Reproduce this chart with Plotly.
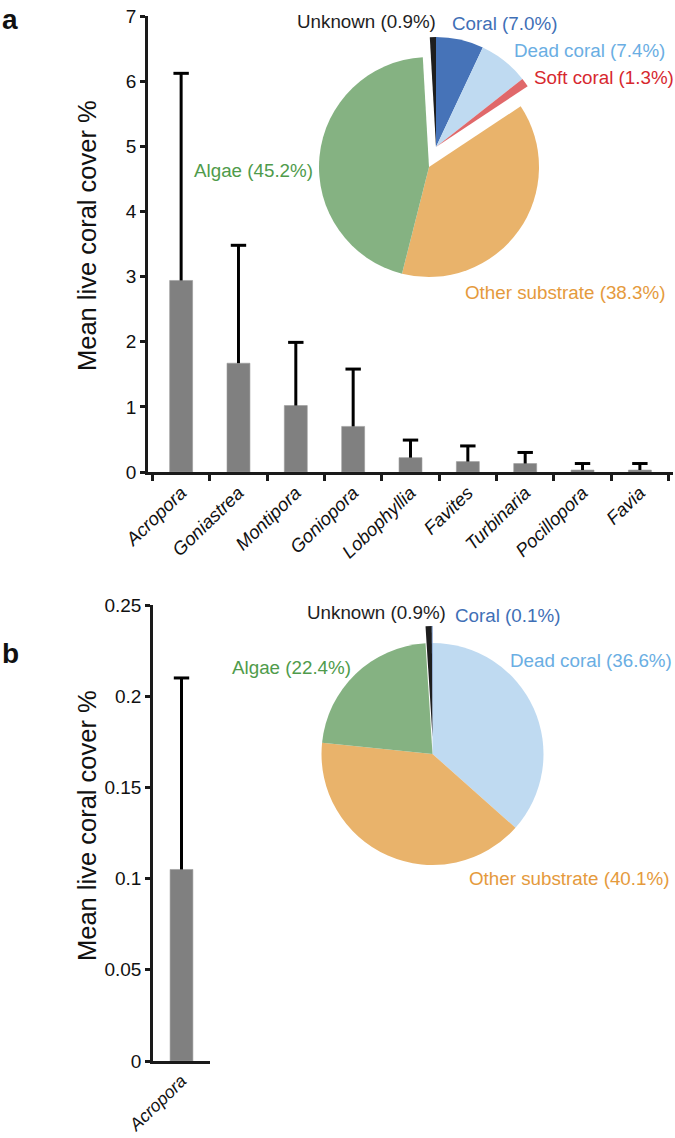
import plotly.graph_objects as go

# ---------------- data ----------------
genera_a = ["Acropora", "Goniastrea", "Montipora", "Goniopora", "Lobophyllia",
            "Favites", "Turbinaria", "Pocillopora", "Favia"]
cover_a = [2.94, 1.67, 1.02, 0.70, 0.22, 0.16, 0.13, 0.03, 0.03]
upper_a = [6.12, 3.48, 1.99, 1.58, 0.49, 0.40, 0.30, 0.13, 0.13]   # top of error bar

genera_b = ["Acropora"]
cover_b = [0.105]
upper_b = [0.21]

pie_labels_a = ["Unknown", "Coral", "Dead coral", "Soft coral", "Other substrate", "Algae"]
pie_values_a = [0.9, 7.0, 7.4, 1.3, 38.3, 45.2]

pie_labels_b = ["Unknown", "Coral", "Dead coral", "Other substrate", "Algae"]
pie_values_b = [0.9, 0.1, 36.6, 40.1, 22.4]

# ---------------- styles ----------------
W, H = 675, 1138
FONT = "Liberation Sans, Arial, Helvetica, sans-serif"
AX = "#1a1a1a"
fill = {"Unknown": "#1e1e1e", "Coral": "#4673b8", "Dead coral": "#bfdaf1",
        "Soft coral": "#e0686a", "Other substrate": "#e9b36b", "Algae": "#85b282"}
tcol = {"Unknown": "#1e1e1e", "Coral": "#3f6fb6", "Dead coral": "#6aaee3",
        "Soft coral": "#d7282f", "Other substrate": "#e59a3c", "Algae": "#4f9b4b"}
exploded_a = {"Unknown", "Coral", "Dead coral", "Soft coral"}
exploded_b = {"Unknown", "Coral"}
lead_a = ["Unknown"]            # slices placed just counter-clockwise of 12 o'clock
lead_b = ["Unknown", "Coral"]


def px_x(x):
    return x / W


def px_y(y):
    return 1 - y / H


def dom(cx, cy, r):
    return dict(x=[px_x(cx - r), px_x(cx + r)], y=[px_y(cy + r), px_y(cy - r)])


fig = go.Figure()

# ---------------- bar panels ----------------
bar_style = dict(color="#808080", line=dict(color="#9a9a9a", width=0.6))


def bar_with_error(cats, mean, upper, xa, ya):
    fig.add_trace(go.Bar(x=cats, y=mean, width=0.4, xaxis=xa, yaxis=ya,
                         marker=bar_style, showlegend=False))
    xs, ys = [], []
    for c, m, u in zip(cats, mean, upper):
        xs += [c, c, None]
        ys += [m, u, None]
    fig.add_trace(go.Scatter(x=xs, y=ys, mode="lines", xaxis=xa, yaxis=ya,
                             line=dict(color="black", width=3),
                             hoverinfo="skip", showlegend=False))
    fig.add_trace(go.Scatter(x=cats, y=upper, mode="markers", xaxis=xa, yaxis=ya,
                             marker=dict(symbol="line-ew", size=11, color="black",
                                         line=dict(color="black", width=3)),
                             hoverinfo="skip", showlegend=False))


bar_with_error(genera_a, cover_a, upper_a, "x", "y")
bar_with_error(genera_b, cover_b, upper_b, "x2", "y2")


# ---------------- pies (base + exploded group) ----------------
def pie_pair(labels, values, exploded, lead, center, r, shift):
    total = sum(values)
    rot = -sum(v for l, v in zip(labels, values) if l in lead) / total * 360
    base_cols = ["rgba(0,0,0,0)" if l in exploded else fill[l] for l in labels]
    ex_cols = [fill[l] if l in exploded else "rgba(0,0,0,0)" for l in labels]
    cx, cy = center
    common = dict(labels=labels, values=values, sort=False, direction="clockwise",
                  rotation=rot, textinfo="none", showlegend=False,
                  hoverinfo="label+percent")
    fig.add_trace(go.Pie(domain=dom(cx, cy, r),
                         marker=dict(colors=base_cols, line=dict(width=0)), **common))
    fig.add_trace(go.Pie(domain=dom(cx + shift[0], cy + shift[1], r),
                         marker=dict(colors=ex_cols, line=dict(width=0)), **common))


pie_pair(pie_labels_a, pie_values_a, exploded_a, lead_a, (429, 167), 110, (7, -20))
pie_pair(pie_labels_b, pie_values_b, exploded_b, lead_b, (432.5, 754), 111, (0, -17))

# ---------------- annotations ----------------
ann = []
pos_a = {"Unknown": (295, 22), "Coral": (450, 24), "Dead coral": (512, 50),
         "Soft coral": (532, 77), "Algae": (192, 171), "Other substrate": (463, 293)}
pos_b = {"Unknown": (305, 612), "Coral": (453, 615), "Dead coral": (508, 660),
         "Algae": (230, 667), "Other substrate": (467, 878)}
for labels, values, pos in ((pie_labels_a, pie_values_a, pos_a),
                            (pie_labels_b, pie_values_b, pos_b)):
    for lab, v in zip(labels, values):
        x, y = pos[lab]
        ann.append(dict(x=px_x(x), y=px_y(y), xref="paper", yref="paper",
                        xanchor="left", yanchor="middle", showarrow=False,
                        text=f"{lab} ({v:.1f}%)",
                        font=dict(family=FONT, size=18.8, color=tcol[lab])))

for txt, (x, y) in (("a", (10, 19)), ("b", (10, 653))):
    ann.append(dict(x=px_x(x), y=px_y(y), xref="paper", yref="paper",
                    xanchor="center", yanchor="middle", showarrow=False,
                    text=f"<b>{txt}</b>", font=dict(family=FONT, size=28, color="#111")))

for (x, y) in ((87, 236), (87, 826)):
    ann.append(dict(x=px_x(x), y=px_y(y), xref="paper", yref="paper",
                    xanchor="center", yanchor="middle", showarrow=False, textangle=-90,
                    text="Mean live coral cover %",
                    font=dict(family=FONT, size=25.5, color="#111")))

axis_common = dict(showline=True, linecolor=AX, linewidth=2.6,
                   tickcolor=AX, tickwidth=2.6, showgrid=False, zeroline=False,
                   fixedrange=True, automargin=False)

fig.update_layout(
    template="none",
    width=W, height=H, margin=dict(l=0, r=0, t=0, b=0, pad=0, autoexpand=False),
    paper_bgcolor="white", plot_bgcolor="white", showlegend=False,
    font=dict(family=FONT, color="#111"),
    annotations=ann,
    xaxis=dict(domain=[px_x(148), px_x(673)], anchor="y", type="category",
               categoryorder="array", categoryarray=genera_a,
               ticks="outside", tickson="boundaries", ticklen=6, tickangle=-44,
               tickfont=dict(family=FONT, size=18.5, style="italic", color="#111"),
               **axis_common),
    yaxis=dict(domain=[px_y(472), px_y(16)], anchor="x", range=[0, 7], dtick=1,
               ticks="outside", ticklen=5,
               tickfont=dict(family=FONT, size=19, color="#111"),
               **axis_common),
    xaxis2=dict(domain=[px_x(153), px_x(210)], anchor="y2", type="category",
                categoryorder="array", categoryarray=genera_b,
                ticks="", tickangle=-44,
                tickfont=dict(family=FONT, size=17.5, style="italic", color="#111"),
                **axis_common),
    yaxis2=dict(domain=[px_y(1061), px_y(605)], anchor="x2", range=[0, 0.25], dtick=0.05,
                ticks="outside", ticklen=5,
                tickfont=dict(family=FONT, size=19, color="#111"),
                **axis_common),
)

fig.write_html("out.html",
               config={"displayModeBar": False},
               post_script="document.body.style.margin='0';"
                           "document.body.style.overflow='hidden';")
